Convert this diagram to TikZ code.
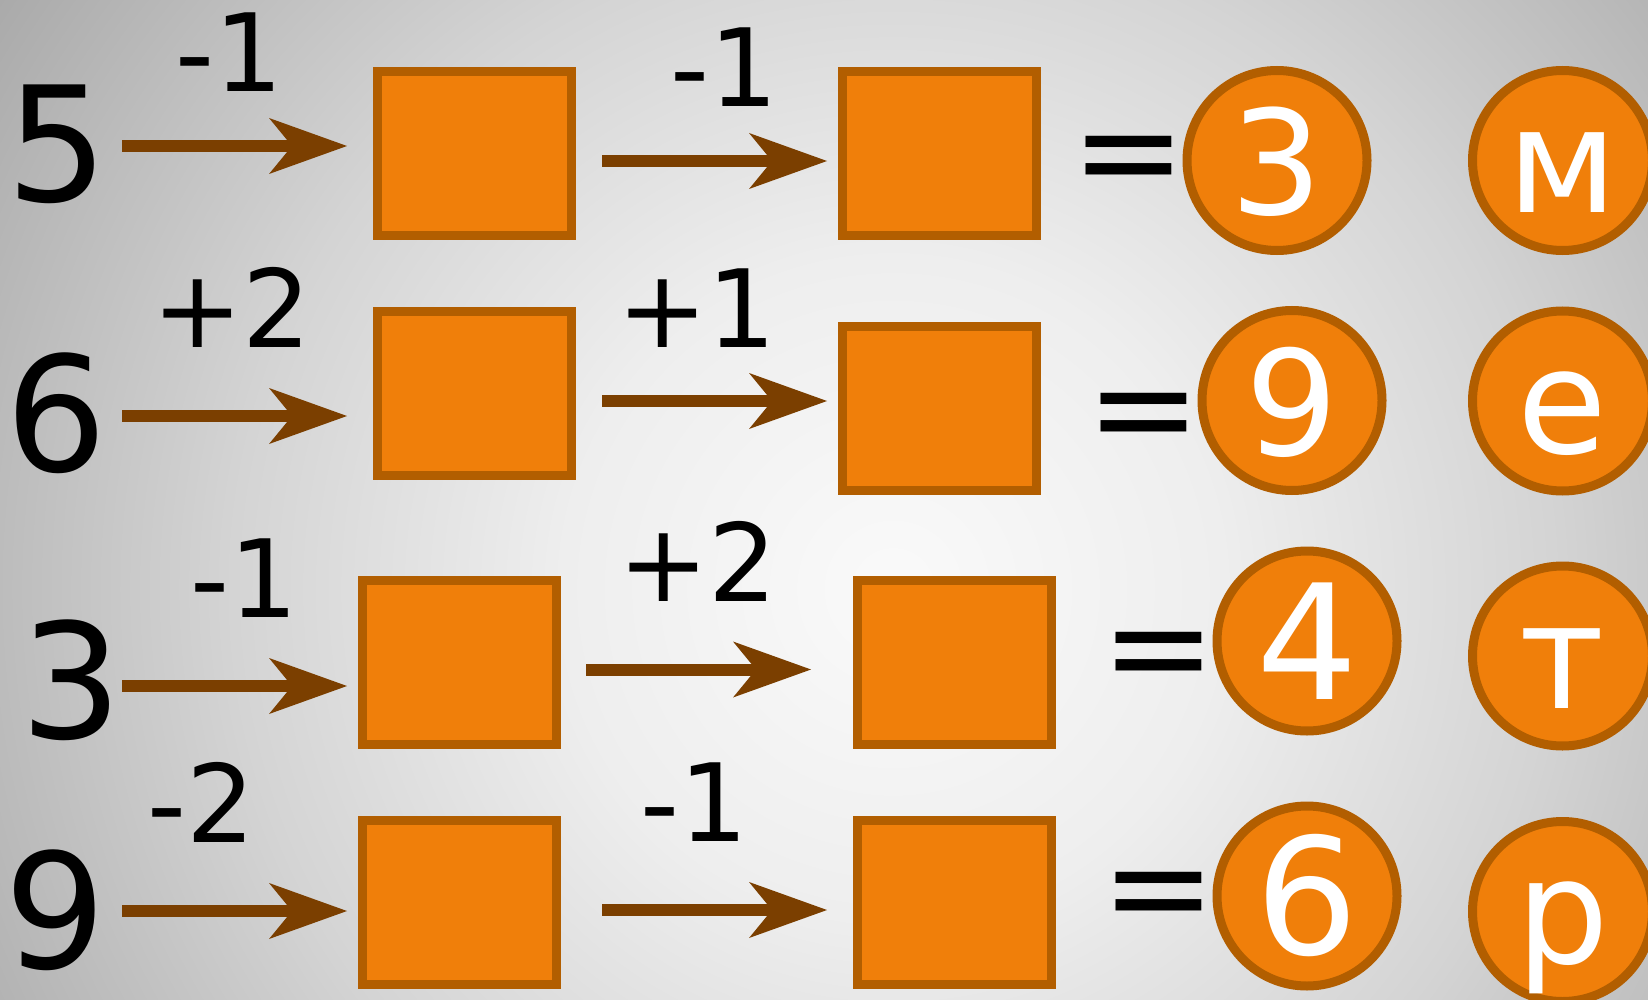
\documentclass[tikz,border=0pt]{standalone}
\usepackage{fontspec}
\setmainfont{DejaVu Sans}
\usetikzlibrary{arrows.meta}
\definecolor{boxfill}{RGB}{240,127,10}
\definecolor{boxline}{RGB}{178,94,0}
\definecolor{arrowbrown}{RGB}{123,63,0}
\definecolor{bgA}{RGB}{250,250,250}
\definecolor{bgB}{RGB}{238,238,238}
\definecolor{bgC}{RGB}{212,212,212}
\definecolor{bgD}{RGB}{184,184,184}
\definecolor{bgE}{RGB}{167,167,167}
\definecolor{bgF}{RGB}{140,140,140}
\pgfdeclareradialshading{bgshade}{\pgfpoint{0bp}{0bp}}{color(0bp)=(bgA); color(7.5bp)=(bgB); color(15bp)=(bgC); color(21.25bp)=(bgD); color(25bp)=(bgE); color(50bp)=(bgF)}
\begin{document}
\begin{tikzpicture}[x=1pt,y=-1pt,
  digit/.style={font=\fontsize{160}{160}\selectfont, anchor=base, inner sep=0pt, text depth=0pt},
  oplabel/.style={font=\fontsize{108}{108}\selectfont, anchor=base, inner sep=0pt, text depth=0pt},
  eqsign/.style={font=\fontsize{137}{137}\selectfont, anchor=base, inner sep=0pt, text depth=0pt},
  slot/.style={draw=boxline, fill=boxfill, line width=9pt, minimum width=194pt, minimum height=164pt, inner sep=0pt},
  res/.style={circle, draw=boxline, fill=boxfill, line width=9pt, minimum size=180pt, inner sep=0pt, text=white, text depth=0pt},
  flow/.style={draw=arrowbrown, line width=12pt, -{Stealth[length=78pt,width=56pt,inset=23pt,line width=0pt]}}
]
\useasboundingbox (0,0) rectangle (1648,1000);
\begin{scope}
  \clip (0,0) rectangle (1648,1000);
  \shade[shading=bgshade] (-207,-511) rectangle (1993,1689);
\end{scope}

% Row 1
\node[digit] (d1) at (57.5,202) {5};
\node[oplabel] (l11) at (229,92) {-1};
\node[slot] (b11) at (474.5,153.5) {};
\node[oplabel] (l12) at (724,107) {-1};
\node[slot] (b12) at (939.5,153.5) {};
\node[eqsign] (e1) at (1128.5,199) {=};
\node[res, font=\fontsize{145}{145}\selectfont, text height=109pt] (c1) at (1277,160.5) {3};
\node[res, font=\fontsize{146}{146}\selectfont, text height=104pt] (m1) at (1562.5,160.5) {м};
\coordinate (a11s) at (122,146); \coordinate (a11e) at (347,146);
\coordinate (a12s) at (602,161); \coordinate (a12e) at (827,161);
\draw[flow] (a11s) -- (a11e);
\draw[flow] (a12s) -- (a12e);

% Row 2
\node[digit] (d2) at (56.5,471) {6};
\node[oplabel] (l21) at (232,347) {+2};
\node[slot] (b21) at (474.5,393.5) {};
\node[oplabel] (l22) at (697,347) {+1};
\node[slot] (b22) at (939.5,408) {};
\node[eqsign] (e2) at (1144,455) {=};
\node[res, font=\fontsize{146}{146}\selectfont, text height=109pt] (c2) at (1292,400.5) {9};
\node[res, font=\fontsize{146}{146}\selectfont, text height=104pt] (m2) at (1562.5,401) {е};
\coordinate (a21s) at (122,416); \coordinate (a21e) at (347,416);
\coordinate (a22s) at (602,401); \coordinate (a22e) at (827,401);
\draw[flow] (a21s) -- (a21e);
\draw[flow] (a22s) -- (a22e);

% Row 3
\node[digit] (d3) at (71,738) {3};
\node[oplabel] (l31) at (244,617) {-1};
\node[slot] (b31) at (459,662.5) {};
\node[oplabel] (l32) at (698,601) {+2};
\node[slot] (b32) at (954.5,662.5) {};
\node[eqsign] (e3) at (1159,694) {=};
\node[res, font=\fontsize{160}{160}\selectfont, text height=116pt] (c3) at (1307,641) {4};
\node[res, font=\fontsize{146}{146}\selectfont, text height=104pt] (m3) at (1562.5,656) {т};
\coordinate (a31s) at (122,686); \coordinate (a31e) at (347,686);
\coordinate (a32s) at (586,669.5); \coordinate (a32e) at (811,669.5);
\draw[flow] (a31s) -- (a31e);
\draw[flow] (a32s) -- (a32e);

% Row 4
\node[digit] (d4) at (55.5,968) {9};
\node[oplabel] (l41) at (201,842) {-2};
\node[slot] (b41) at (459,902.5) {};
\node[oplabel] (l42) at (694,841) {-1};
\node[slot] (b42) at (954.5,902.5) {};
\node[eqsign] (e4) at (1159,934) {=};
\node[res, font=\fontsize{162}{162}\selectfont, text height=116pt] (c4) at (1307,896) {6};
\node[res, font=\fontsize{146}{146}\selectfont, text height=104pt] (m4) at (1562.5,911.5) {р};
\coordinate (a41s) at (122,911); \coordinate (a41e) at (347,911);
\coordinate (a42s) at (602,910); \coordinate (a42e) at (827,910);
\draw[flow] (a41s) -- (a41e);
\draw[flow] (a42s) -- (a42e);
\end{tikzpicture}
\end{document}
